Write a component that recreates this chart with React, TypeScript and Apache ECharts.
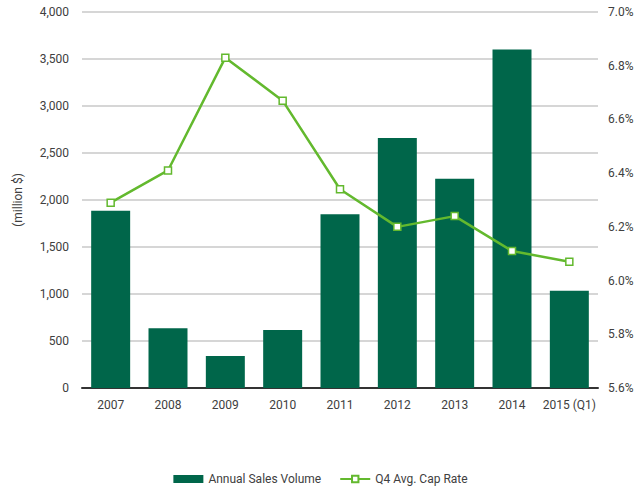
import React, { useEffect, useRef } from "react";
import * as echarts from "echarts";

const categories = ["2007", "2008", "2009", "2010", "2011", "2012", "2013", "2014", "2015 (Q1)"];
const salesVolume = [1885, 635, 340, 618, 1848, 2660, 2225, 3600, 1035];
const capRate = [6.29, 6.41, 6.83, 6.67, 6.34, 6.2, 6.24, 6.11, 6.07];

const FONT = "Roboto, 'Liberation Sans', sans-serif";

export default function App() {
  const ref = useRef<HTMLDivElement>(null);
  useEffect(() => {
    document.body.style.margin = "0";
    const chart = echarts.init(ref.current!, undefined, { renderer: "svg" });
    chart.setOption({
      animation: false,
      textStyle: { fontFamily: FONT },
      grid: { left: 82, right: 43, top: 12, bottom: 108 },
      legend: {
        bottom: 6,
        left: "center",
        itemGap: 18,
        itemWidth: 30,
        itemHeight: 8,
        textStyle: { fontFamily: FONT, fontSize: 12, color: "#404040" },
        data: [
          { name: "Annual Sales Volume", icon: "rect" },
          { name: "Q4 Avg. Cap Rate" },
        ],
      },
      xAxis: {
        type: "category",
        data: categories,
        axisLine: { lineStyle: { color: "#333", width: 2 } },
        axisTick: { show: false },
        axisLabel: { fontFamily: FONT, fontSize: 12, color: "#404040", margin: 11, interval: 0 },
      },
      yAxis: [
        {
          type: "value",
          min: 0,
          max: 4000,
          interval: 500,
          name: "(million $)",
          nameLocation: "middle",
          nameGap: 58,
          nameTextStyle: { fontFamily: FONT, fontSize: 12, color: "#404040" },
          axisLine: { show: false },
          axisTick: { show: false },
          splitLine: { lineStyle: { color: "#c8c8c8", width: 1.5 } },
          axisLabel: {
            fontFamily: FONT,
            fontSize: 12,
            color: "#404040",
            margin: 13,
            formatter: (v: number) => v.toLocaleString("en-US"),
          },
        },
        {
          type: "value",
          min: 5.6,
          max: 7.0,
          interval: 0.2,
          axisLine: { show: false },
          axisTick: { show: false },
          splitLine: { show: false },
          axisLabel: {
            fontFamily: FONT,
            fontSize: 12,
            color: "#404040",
            margin: 10,
            formatter: (v: number) => v.toFixed(1) + "%",
          },
        },
      ],
      series: [
        {
          name: "Annual Sales Volume",
          type: "bar",
          data: salesVolume,
          barWidth: "68%",
          itemStyle: { color: "#00664a" },
        },
        {
          name: "Q4 Avg. Cap Rate",
          type: "line",
          yAxisIndex: 1,
          data: capRate,
          symbol: "rect",
          symbolSize: 7,
          lineStyle: { color: "#63b92e", width: 2.5 },
          itemStyle: { color: "#ffffff", borderColor: "#63b92e", borderWidth: 1.5 },
        },
      ],
    });
    return () => chart.dispose();
  }, []);
  return <div ref={ref} style={{ width: 641, height: 496 }} />;
}
